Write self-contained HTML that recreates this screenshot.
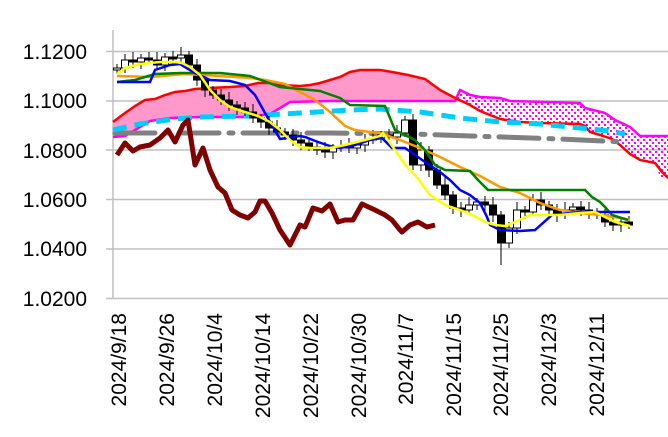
<!DOCTYPE html>
<html><head><meta charset="utf-8"><style>
html,body{margin:0;padding:0;background:#fff}
svg{display:block}
text{font-family:"Liberation Sans",Arial,sans-serif;fill:#000}
</style></head><body>
<svg id="s" width="668" height="437" viewBox="0 0 668 437" xmlns="http://www.w3.org/2000/svg">
<defs>
<pattern id="dots" width="6" height="6" patternUnits="userSpaceOnUse">
<rect x="1" y="1" width="2" height="2" fill="#ff00ff"/><rect x="4" y="4" width="2" height="2" fill="#ff00ff"/>
</pattern>
</defs>
<g stroke="#c0c0c0" stroke-width="1.5">
<line x1="106" y1="51.5" x2="668" y2="51.5"/>
<line x1="106" y1="101" x2="668" y2="101"/>
<line x1="106" y1="150" x2="668" y2="150"/>
<line x1="106" y1="199.5" x2="668" y2="199.5"/>
<line x1="106" y1="249" x2="668" y2="249"/>
<line x1="106" y1="298.5" x2="668" y2="298.5"/>
<line x1="113" y1="30" x2="113" y2="298.5"/>
</g>
<g font-size="21" text-anchor="end">
<text x="87" y="59">1.1200</text>
<text x="87" y="108">1.1000</text>
<text x="87" y="158">1.0800</text>
<text x="87" y="207">1.0600</text>
<text x="87" y="256">1.0400</text>
<text x="87" y="306">1.0200</text>
</g>
<g font-size="21" text-anchor="end">
<text transform="translate(126,313) rotate(-90)">2024/9/18</text>
<text transform="translate(174,313) rotate(-90)">2024/9/26</text>
<text transform="translate(222,313) rotate(-90)">2024/10/4</text>
<text transform="translate(270,313) rotate(-90)">2024/10/14</text>
<text transform="translate(318,313) rotate(-90)">2024/10/22</text>
<text transform="translate(366,313) rotate(-90)">2024/10/30</text>
<text transform="translate(413,313) rotate(-90)">2024/11/7</text>
<text transform="translate(461,313) rotate(-90)">2024/11/15</text>
<text transform="translate(508,313) rotate(-90)">2024/11/25</text>
<text transform="translate(556,313) rotate(-90)">2024/12/3</text>
<text transform="translate(604,313) rotate(-90)">2024/12/11</text>
</g>
<!-- pink cloud -->
<polygon fill="#ff99cc" points="113,122 125,113 135,106 145,100 155,99 165,95 175,92 185,91 195,89 210,88 230,87 245,86 258,83 270,83 280,85 300,86 310,85 320,83 330,80 340,77 350,72 360,70 380,70 392,72 408,75 425,79 440,90 455,98 455,101 400,101 330,101 290,102 270,114 250,117 200,117 170,118 150,121 145,124 135,130 125,136 113,137"/>
<!-- dotted cloud -->
<polygon fill="url(#dots)" points="458,92 470,95 480,97 500,98 510,101 580,103 585,108 605,113 615,120 630,127 640,136 668,136 668,177 660,177 655,163 640,160 630,154 620,145 612,139 600,135 590,132 585,126 580,124 540,123 520,122 500,119 480,111 470,105 458,99"/>
<polyline fill="none" stroke="#ff00ff" stroke-width="2.5" points="113,137 125,136 135,130 145,124 150,121 170,118 200,117 250,117 270,114 290,102 330,101 455,101 460,90 470,95 480,97 500,98 510,101 580,103 585,108 605,113 615,120 630,127 640,136 668,136"/>
<polyline fill="none" stroke="#ff0000" stroke-width="2.5" points="113,122 125,113 135,106 145,100 155,99 165,95 175,92 185,91 195,89 210,88 230,87 245,86 258,83 270,83 280,85 300,86 310,85 320,83 330,80 340,77 350,72 360,70 380,70 392,72 408,75 425,79 440,90 455,98 470,105 480,111 500,119 520,122 540,123 580,124 585,126 590,132 600,135 612,139 620,145 630,154 640,160 655,163 662,172 668,178"/>
<polyline fill="none" stroke="#808080" stroke-width="5" stroke-dasharray="40,10,4,10" stroke-linecap="round" points="115,133 330,133 413,134 560,139 625,142"/>
<polyline fill="none" stroke="#00ccff" stroke-width="5" stroke-dasharray="14,8" points="113,130 140,124 175,119 200,117 250,116 300,113 350,110 380,109 420,112 460,118 500,122 540,124 580,128 610,131 625,134"/>
<polyline fill="none" stroke="#800000" stroke-width="5" stroke-linejoin="round" points="117,155 125,143 133,151 140,147 150,145 160,138 168,130 175,142 183,125 188,120 195,165 203,148 210,170 218,187 225,193 232,210 240,215 248,218 255,212 260,201 265,201 272,213 280,230 290,245 300,225 305,227 313,208 322,211 330,204 338,222 345,220 353,220 362,204 375,210 385,215 392,220 400,230 402,232 410,225 418,222 427,227 435,225"/>
<g id="candles"></g>
<polyline fill="none" stroke="#ff9900" stroke-width="2.5" points="117,76 150,77 185,74 220,76 250,78 265,80 285,84 300,92 315,100 330,112 345,126 355,130 370,132 380,133 400,140 420,148 440,157 460,167 480,176 500,187 520,193 540,203 560,210 580,213 600,215 620,218 630,220"/>
<polyline fill="none" stroke="#008000" stroke-width="2.5" points="117,82 135,80 155,74 180,73 220,73 250,76 280,87 300,89 320,91 340,98 350,105 385,106 390,118 395,130 405,135 415,140 425,150 435,165 445,170 470,171 478,180 488,190 585,190 592,197 600,202 605,207 612,215 628,220"/>
<polyline fill="none" stroke="#0000ff" stroke-width="2.5" points="117,82 150,82 155,70 170,65 180,64 183,66 195,73 210,80 230,81 245,85 255,95 265,113 280,139 300,136 305,137 318,142 330,146 340,148 355,145 370,140 382,138 392,148 405,148 415,155 425,162 440,172 450,180 460,190 470,195 480,203 487,217 490,225 500,230 520,231 535,230 552,215 570,213 580,212 630,212"/>
<polyline fill="none" stroke="#ffff00" stroke-width="2.5" points="117,74 125,68 140,64 160,62 175,62 182,63 190,67 200,75 210,90 220,100 230,107 245,112 258,116 270,122 280,130 290,140 300,147 310,148 330,148 345,145 365,140 380,136 383,133 395,150 405,165 415,175 430,195 445,205 460,210 470,214 485,222 495,225 505,226 515,222 530,215 545,215 560,215 580,213 595,212 605,217 615,222 630,226"/>
</svg>
<script>
var c=[68,60,62,58,60,65,57,58,55,65,80,90,95,100,105,108,112,118,122,128,132,135,140,143,147,150,152,148,146,148,145,140,138,135,137,133,120,165,150,170,185,195,208,210,205,202,205,215,243,228,210,212,200,205,210,215,210,207,210,212,215,222,225,222,225];
var g=document.getElementById('candles'),ns='http://www.w3.org/2000/svg',o=70,h='';
for(var i=0;i<c.length;i++){var x=117+8*i,cl=c[i],t=Math.min(o,cl),b=Math.max(o,cl);if(b-t<2)b=t+2;
var hi=t-4-(i%3)*2,lo=b+4+(i%4);if(i==48)lo=265;
h+='<line x1="'+x+'" y1="'+hi+'" x2="'+x+'" y2="'+lo+'" stroke="#000" stroke-width="1"/>';
var bear=cl>o;h+='<rect x="'+(x-3.5)+'" y="'+t+'" width="7" height="'+(b-t)+'" fill="'+(bear?'#000':'#fff')+'" stroke="#000" stroke-width="1"/>';o=cl;}
g.innerHTML=h;
</script>
</body></html>
